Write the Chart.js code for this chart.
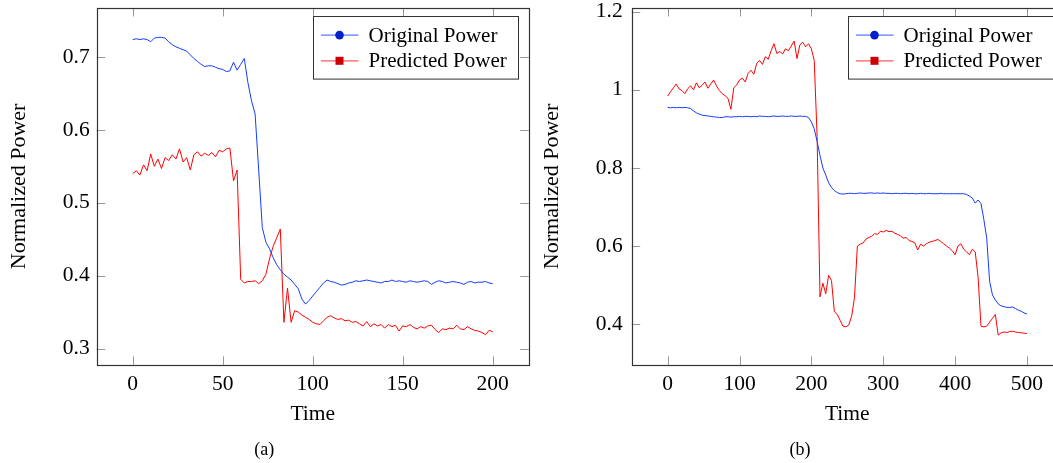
<!DOCTYPE html>
<html><head><meta charset="utf-8">
<script src="https://cdn.jsdelivr.net/npm/chart.js@4"></script>
<style>
html,body{margin:0;padding:0;width:1053px;height:463px;overflow:hidden;background:#fff;}
#wa{position:absolute;left:0;top:0;width:540px;height:463px;}
#wb{position:absolute;left:537px;top:0;width:540px;height:463px;}
canvas{display:block;}
</style></head><body>
<div id="wa"><canvas id="ca" width="540" height="463"></canvas></div>
<div id="wb"><canvas id="cb" width="540" height="463"></canvas></div>
<script>
// ---------- Data ----------
const seriesNames = ['Original Power', 'Predicted Power'];
const xTitle = 'Time';
const yTitle = 'Normalized Power';
const captions = ['(a)', '(b)'];

// Panel (a): time 0..200, step 2
const timeStepA = 2;
const origA = [
0.724,0.725,0.724,0.725,0.724,0.721,0.726,0.727,0.727,0.726,
0.721,0.717,0.714,0.712,0.710,0.708,0.703,0.698,0.694,0.690,
0.687,0.688,0.688,0.686,0.684,0.683,0.680,0.681,0.693,0.682,
0.690,0.698,0.665,0.640,0.622,0.545,0.466,0.446,0.437,0.425,
0.415,0.408,0.402,0.398,0.394,0.388,0.382,0.368,0.361,0.366,
0.372,0.378,0.384,0.390,0.394,0.392,0.391,0.389,0.387,0.388,
0.390,0.391,0.393,0.392,0.393,0.394,0.393,0.392,0.391,0.390,
0.392,0.392,0.394,0.392,0.393,0.392,0.391,0.393,0.392,0.391,
0.392,0.393,0.392,0.388,0.391,0.393,0.392,0.390,0.391,0.392,
0.391,0.390,0.388,0.391,0.392,0.390,0.391,0.391,0.392,0.390,
0.389];
const predA = [
0.540,0.544,0.538,0.552,0.544,0.567,0.550,0.560,0.547,0.562,
0.558,0.566,0.560,0.574,0.556,0.562,0.545,0.566,0.570,0.564,
0.568,0.565,0.569,0.563,0.572,0.570,0.574,0.575,0.530,0.545,
0.395,0.390,0.392,0.392,0.393,0.389,0.393,0.402,0.423,0.440,
0.452,0.464,0.336,0.383,0.336,0.352,0.350,0.346,0.343,0.340,
0.336,0.334,0.333,0.338,0.343,0.345,0.342,0.340,0.341,0.338,
0.339,0.336,0.337,0.334,0.331,0.337,0.330,0.334,0.331,0.333,
0.328,0.333,0.330,0.332,0.324,0.331,0.330,0.333,0.329,0.327,
0.330,0.328,0.331,0.332,0.326,0.322,0.327,0.326,0.328,0.327,
0.332,0.327,0.326,0.330,0.327,0.325,0.324,0.322,0.319,0.325,
0.323];
const xTicksA = [0, 50, 100, 150, 200];
const yTicksA = [0.3, 0.4, 0.5, 0.6, 0.7];

// Panel (b): time 0..500, step 4
const timeStepB = 4;
const origB = [
0.955,0.954,0.955,0.954,0.955,0.954,0.955,0.954,0.952,0.946,
0.941,0.938,0.935,0.934,0.933,0.932,0.931,0.930,0.929,0.929,
0.931,0.931,0.930,0.931,0.931,0.932,0.931,0.932,0.932,0.931,
0.932,0.931,0.933,0.932,0.932,0.931,0.932,0.933,0.932,0.932,
0.933,0.932,0.932,0.933,0.932,0.932,0.933,0.932,0.932,0.929,
0.918,0.900,0.868,0.832,0.800,0.782,0.762,0.750,0.742,0.737,
0.734,0.733,0.734,0.735,0.735,0.734,0.735,0.736,0.735,0.735,
0.736,0.736,0.735,0.736,0.735,0.736,0.735,0.735,0.734,0.735,
0.735,0.734,0.735,0.735,0.734,0.735,0.734,0.734,0.735,0.734,
0.734,0.735,0.734,0.734,0.734,0.735,0.734,0.734,0.734,0.734,
0.734,0.734,0.734,0.734,0.732,0.728,0.723,0.710,0.718,0.709,
0.668,0.620,0.510,0.475,0.462,0.452,0.447,0.445,0.443,0.443,
0.444,0.440,0.436,0.433,0.429,0.426];
const predB = [
0.984,0.995,1.005,1.015,1.002,0.998,0.990,1.003,1.010,1.000,
1.018,1.005,1.012,1.020,1.004,1.015,1.025,1.010,0.998,0.990,
0.985,0.978,0.950,1.005,1.012,1.025,1.030,1.020,1.042,1.050,
1.040,1.068,1.075,1.065,1.085,1.078,1.100,1.118,1.093,1.098,
1.092,1.105,1.100,1.112,1.125,1.080,1.115,1.122,1.110,1.118,
1.105,1.075,0.880,0.470,0.505,0.478,0.525,0.512,0.432,0.425,
0.410,0.395,0.393,0.398,0.420,0.468,0.600,0.605,0.608,0.618,
0.622,0.625,0.632,0.630,0.638,0.636,0.640,0.637,0.638,0.633,
0.630,0.626,0.620,0.622,0.614,0.612,0.608,0.590,0.605,0.600,
0.606,0.610,0.612,0.614,0.617,0.612,0.606,0.600,0.595,0.588,
0.578,0.600,0.606,0.592,0.585,0.578,0.592,0.585,0.520,0.395,
0.393,0.395,0.405,0.415,0.425,0.372,0.378,0.380,0.379,0.381,
0.382,0.380,0.379,0.378,0.377,0.376];
const xTicksB = [0, 100, 200, 300, 400, 500];
const yTicksB = [0.4, 0.6, 0.8, 1, 1.2];

// ---------- Styling ----------
const FONT = 'Liberation Serif';
const lineColors = ['rgb(20,60,255)', 'rgb(255,0,0)'];
const legendLineColors = ['rgb(90,120,255)', 'rgb(255,90,90)'];
const markerColors = ['rgb(0,32,204)', 'rgb(204,0,0)'];
const markerStyles = ['circle', 'rect'];

const framePlugin = {
  id: 'pgfFrame',
  afterDatasetsDraw(chart) {
    const {ctx, chartArea: a, scales} = chart;
    ctx.save();
    ctx.strokeStyle = '#999';
    ctx.lineWidth = 1;
    const L = 8.5;
    ctx.beginPath();
    for (const t of scales.x.ticks) {
      const px = Math.round(scales.x.getPixelForValue(t.value)) + 0.5;
      ctx.moveTo(px, a.bottom); ctx.lineTo(px, a.bottom - L);
      ctx.moveTo(px, a.top); ctx.lineTo(px, a.top + L);
    }
    for (const t of scales.y.ticks) {
      const py = Math.round(scales.y.getPixelForValue(t.value)) + 0.5;
      ctx.moveTo(a.left, py); ctx.lineTo(a.left + L, py);
      ctx.moveTo(a.right, py); ctx.lineTo(a.right - L, py);
    }
    ctx.stroke();
    ctx.strokeStyle = '#333';
    ctx.lineWidth = 1.2;
    ctx.strokeRect(Math.round(a.left) + 0.5, Math.round(a.top) + 0.5,
                   Math.round(a.right - a.left), Math.round(a.bottom - a.top));
    ctx.restore();
  }
};

const legendPlugin = {
  id: 'pgfLegend',
  afterDraw(chart) {
    const {ctx, chartArea: a} = chart;
    const w = 205, h = 62.6;
    const bx = Math.round(a.right - 10.4 - w) + 0.5, by = Math.round(a.top + 7.7) + 0.5;
    ctx.save();
    ctx.fillStyle = '#fff';
    ctx.fillRect(bx, by, w, h);
    ctx.strokeStyle = '#333';
    ctx.lineWidth = 1;
    ctx.strokeRect(bx, by, w, h);
    const rows = [18.6, 44.3];
    chart.data.datasets.forEach((ds, i) => {
      const y = by + rows[i];
      ctx.strokeStyle = legendLineColors[i];
      ctx.lineWidth = 1.3;
      ctx.beginPath(); ctx.moveTo(bx + 7.4, y); ctx.lineTo(bx + 45, y); ctx.stroke();
      ctx.fillStyle = markerColors[i];
      if (markerStyles[i] === 'circle') {
        ctx.beginPath(); ctx.arc(bx + 26, y, 4.3, 0, Math.PI * 2); ctx.fill();
      } else {
        ctx.fillRect(bx + 26 - 4, y - 4, 8, 8);
      }
      ctx.fillStyle = '#000';
      ctx.font = '21px "' + FONT + '"';
      ctx.textBaseline = 'middle';
      ctx.textAlign = 'left';
      ctx.fillText(ds.label, bx + 55, y + 1);
    });
    ctx.restore();
  }
};

function fmt(v) { return String(Number(v.toFixed(3))); }

function makeChart(canvasId, step, orig, pred, xTicks, yTicks, xMin, xMax, yMin, yMax, yWidth, padRight, yTitlePad, yTickPad, caption) {
  const times = orig.map((_, i) => i * step);
  const tickFont = {family: FONT, size: 21.5};
  return new Chart(document.getElementById(canvasId), {
    type: 'line',
    data: {
      datasets: [
        {label: seriesNames[0], data: times.map((t, i) => ({x: t, y: orig[i]})), borderColor: lineColors[0], borderWidth: 1, pointRadius: 0, tension: 0, fill: false},
        {label: seriesNames[1], data: times.map((t, i) => ({x: t, y: pred[i]})), borderColor: lineColors[1], borderWidth: 1, pointRadius: 0, tension: 0, fill: false}
      ]
    },
    options: {
      responsive: false,
      animation: false,
      layout: {padding: {top: 8, right: padRight, left: 0, bottom: 0}},
      scales: {
        x: {
          type: 'linear', min: xMin, max: xMax,
          afterBuildTicks: s => { s.ticks = xTicks.map(v => ({value: v})); },
          afterFit: s => { s.height = 74.6; s.paddingLeft = 0; s.paddingRight = 0; s.paddingTop = 0; s.paddingBottom = 0; },
          grid: {display: true, drawOnChartArea: false, drawTicks: false},
          border: {display: false},
          ticks: {font: tickFont, color: '#000', padding: 6.5, maxRotation: 0, autoSkip: false, callback: v => fmt(v)},
          title: {display: true, text: xTitle, font: {family: FONT, size: 21.5}, color: '#000', padding: {top: 0, bottom: 12}}
        },
        y: {
          type: 'linear', min: yMin, max: yMax,
          afterBuildTicks: s => { s.ticks = yTicks.map(v => ({value: v})); },
          afterFit: s => { s.width = yWidth; s.paddingTop = 0; s.paddingBottom = 0; s.paddingLeft = 0; s.paddingRight = 0; },
          grid: {display: true, drawOnChartArea: false, drawTicks: false},
          border: {display: false},
          ticks: {font: tickFont, color: '#000', padding: yTickPad, autoSkip: false, callback: v => fmt(v)},
          title: {display: true, text: yTitle, font: {family: FONT, size: 22}, color: '#000', padding: {top: yTitlePad, bottom: 0}}
        }
      },
      plugins: {
        legend: {display: false},
        tooltip: {enabled: false},
        title: {display: true, text: caption, position: 'bottom', font: {family: FONT, size: 18, weight: 'normal'}, color: '#000', padding: {top: 0, bottom: 2}}
      }
    },
    plugins: [framePlugin, legendPlugin]
  });
}

makeChart('ca', timeStepA, origA, predA, xTicksA, yTicksA, -20, 220, 0.2777, 0.7673, 96.7, 11.3, 6.0, 7, captions[0]);
makeChart('cb', timeStepB, origB, predB, xTicksB, yTicksB, -50, 550, 0.2961, 1.2094, 94.7, 14.1, 2.5, 9, captions[1]);
</script>
</body></html>
